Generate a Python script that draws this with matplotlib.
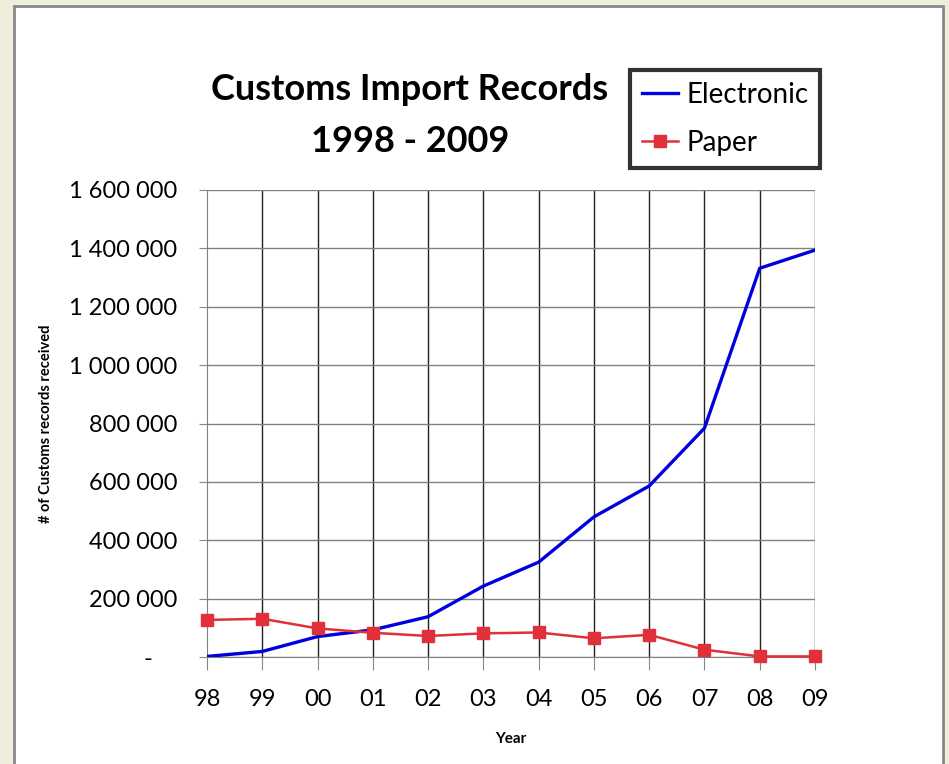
import matplotlib
matplotlib.use("Agg")
import matplotlib.pyplot as plt
from matplotlib.patches import Rectangle
from matplotlib.ticker import FuncFormatter

years = ["98", "99", "00", "01", "02", "03", "04", "05", "06", "07", "08", "09"]
electronic = [2000, 19000, 70000, 93000, 138000, 243000, 325000, 480000, 586000, 784000, 1332000, 1394000]
paper = [127000, 131000, 98000, 83000, 72000, 81000, 84000, 64000, 76000, 25000, 2000, 2000]
yticks = [0, 200000, 400000, 600000, 800000, 1000000, 1200000, 1400000, 1600000]

plt.rcParams['font.family'] = ['Lato', 'DejaVu Sans']

W, H = 949, 764
fig = plt.figure(figsize=(W / 100, H / 100), dpi=100)
fig.patch.set_facecolor('#F0EDDC')

# white panel with gray border
panel = Rectangle((14 / W, -0.05), (943 - 14) / W, 1 - 6 / H + 0.05,
                  transform=fig.transFigure, facecolor='white',
                  edgecolor='#888888', linewidth=2, zorder=-10)
fig.patches.append(panel)

ax = fig.add_axes([207 / W, 1 - 657 / H, (815 - 207) / W, (657 - 190) / H])
ax.set_zorder(1)
ax.set_facecolor('white')
x = list(range(len(years)))

ax.plot(x, electronic, color='#0000DD', linewidth=2.4, label='Electronic', zorder=3)
ax.plot(x, paper, color='#E0303A', linewidth=1.8, marker='s', markersize=9,
        label='Paper', zorder=4, clip_on=False)

ax.set_xlim(0, len(years) - 1)
ax.set_ylim(0, 1600000)
ax.set_xticks(x)
ax.set_xticklabels(years, fontsize=17)
ax.set_yticks(yticks)

def fmt(v, pos):
    if v == 0:
        return '-    '
    return f"{int(v):,}".replace(',', ' ')

ax.yaxis.set_major_formatter(FuncFormatter(fmt))
ax.tick_params(axis='y', labelsize=17, length=6, color='#888888', pad=15.5)
ax.tick_params(axis='x', length=9, color='#888888', pad=14)

ax.grid(axis='y', color='#808080', linewidth=1)
for xi in x[1:]:
    ax.axvline(xi, color='#222222', linewidth=1, zorder=1)
for s in ['top', 'right']:
    ax.spines[s].set_visible(False)
ax.spines['left'].set_color('#808080')
ax.spines['bottom'].set_color('#808080')

ax.set_xlabel('Year', fontsize=11, fontweight='bold', labelpad=16)
ax.set_ylabel('# of Customs records received', fontsize=10.5, fontweight='bold')
ax.yaxis.set_label_coords((53 - 207) / (815 - 207), 0.5)

fig.text(410 / W, 1 - 90 / H, 'Customs Import Records', ha='center', va='center',
         fontsize=26, fontweight='bold')
fig.text(410 / W, 1 - 142 / H, '1998 - 2009', ha='center', va='center',
         fontsize=26, fontweight='bold')

leg = fig.legend(loc='upper left', bbox_to_anchor=(630 / W, 1 - 70 / H),
                 fontsize=20, frameon=True, fancybox=False, handlelength=1.3,
                 handletextpad=0.3, borderpad=0.42, labelspacing=0.8,
                 borderaxespad=0)
leg.get_frame().set_edgecolor('black')
leg.get_frame().set_linewidth(3)

fig.savefig('out.png', dpi=100, facecolor=fig.get_facecolor())
